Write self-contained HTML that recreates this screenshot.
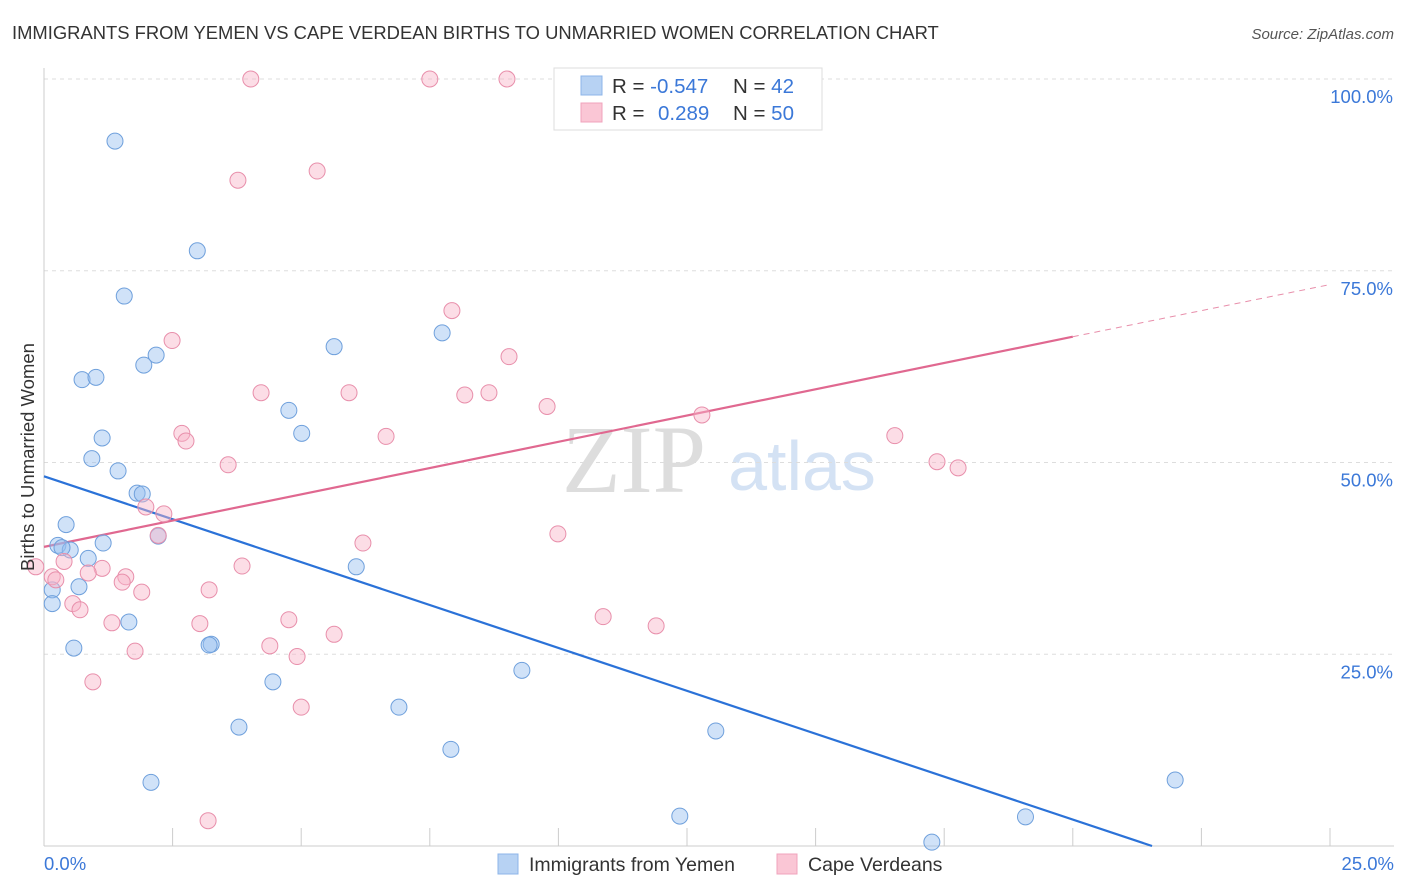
<!DOCTYPE html>
<html><head><meta charset="utf-8"><style>
body{margin:0;background:#fff;font-family:"Liberation Sans",sans-serif;}
svg{display:block}
</style></head><body>
<svg id="chart" width="1406" height="892">
<text x="12" y="39" font-size="18.4" fill="#333">IMMIGRANTS FROM YEMEN VS CAPE VERDEAN BIRTHS TO UNMARRIED WOMEN CORRELATION CHART</text>
<text x="1394" y="39" font-size="15" fill="#555" font-style="italic" text-anchor="end">Source: ZipAtlas.com</text>
<text x="634" y="492" font-size="96" fill="#ddd" font-family="Liberation Serif,serif" text-anchor="middle">ZIP</text>
<text x="802" y="490" font-size="70" fill="#d4e2f4" text-anchor="middle">atlas</text>
<g id="grid"></g>
<g id="axes"></g>
<g id="lines"></g>
<g id="pts"></g>
<text transform="translate(34,457) rotate(-90)" font-size="18.5" fill="#333" text-anchor="middle">Births to Unmarried Women</text>
<text x="44" y="870" font-size="18.5" fill="#3b78d8">0.0%</text>
<text x="1394" y="870" font-size="18.5" fill="#3b78d8" text-anchor="end">25.0%</text>
<g>
<rect x="554" y="68" width="268" height="62" fill="#fff" stroke="#ddd"/>
<rect x="581" y="76" width="21" height="19" fill="#b7d2f3" stroke="#8cb4e8"/>
<rect x="581" y="103" width="21" height="19" fill="#fac6d5" stroke="#f0a3bc"/>
<text x="612" y="93" font-size="20.5" fill="#333">R = <tspan fill="#3b78d8">-0.547</tspan><tspan x="733">N = </tspan><tspan fill="#3b78d8">42</tspan></text>
<text x="612" y="120" font-size="20.5" fill="#333">R = <tspan x="658" fill="#3b78d8">0.289</tspan><tspan x="733">N = </tspan><tspan fill="#3b78d8">50</tspan></text>
</g>
<g>
<rect x="498" y="854" width="20" height="20" fill="#b7d2f3" stroke="#8cb4e8"/>
<text x="529" y="871" font-size="19.5" fill="#333">Immigrants from Yemen</text>
<rect x="777" y="854" width="20" height="20" fill="#fac6d5" stroke="#f0a3bc"/>
<text x="808" y="871" font-size="19.5" fill="#333">Cape Verdeans</text>
</g>
</svg>
<script>
const yTicks=[25,50,75,100];
const yTickLabels=["25.0%","50.0%","75.0%","100.0%"];
const xTicks=[0,2.5,5,7.5,10,12.5,15,17.5,20,22.5,25];
const blueX=[1.38,2.98,1.56,2.18,1.94,0.74,1.01,1.13,0.93,1.44,1.81,1.91,0.43,0.27,0.51,0.35,1.15,0.86,2.22,0.68,0.16,0.16,1.65,0.58,3.25,3.21,5.64,4.76,5.01,7.74,6.07,4.45,3.79,6.9,9.29,7.91,2.08,13.06,12.36,21.99,19.08,17.26];
const blueY=[91.9,77.6,71.7,64.0,62.7,60.8,61.1,53.2,50.5,48.9,46.0,45.9,41.9,39.2,38.6,38.9,39.5,37.5,40.4,33.8,33.4,31.6,29.2,25.8,26.3,26.2,65.1,56.8,53.8,66.9,36.4,21.4,15.5,18.1,22.9,12.6,8.3,15.0,3.9,8.6,3.8,0.5];
const pinkX=[4.02,7.5,9.0,3.77,5.31,7.93,2.49,9.04,4.22,5.93,8.18,8.65,9.78,2.68,2.76,6.65,12.79,16.54,17.36,17.77,3.58,1.98,2.33,2.22,6.2,9.99,3.85,1.13,0.86,-0.16,0.39,0.16,0.23,1.59,1.52,1.9,3.21,0.56,0.7,1.32,3.03,4.76,5.64,10.87,11.9,4.39,4.92,1.77,0.95,5.0,3.19];
const pinkY=[100,100,100,86.8,88.0,69.8,65.9,63.8,59.1,59.1,58.8,59.1,57.3,53.8,52.8,53.4,56.2,53.5,50.1,49.3,49.7,44.2,43.3,40.5,39.5,40.7,36.5,36.2,35.6,36.4,37.1,35.1,34.7,35.1,34.4,33.1,33.4,31.6,30.8,29.1,29.0,29.5,27.6,29.9,28.7,26.1,24.7,25.4,21.4,18.1,3.3];
const blueLine=[0,48.2,21.54,0];
const pinkLine=[0,39.0,20,66.4,25,73.2];
const ns="http://www.w3.org/2000/svg";
const X0=44,X1=1330,Y0=846,Y100=79;
const sx=v=>X0+v/25*(X1-X0);
const sy=v=>Y0-v/100*(Y0-Y100);
function mk(tag,attrs,parent){const e=document.createElementNS(ns,tag);for(const k in attrs)e.setAttribute(k,attrs[k]);parent.appendChild(e);return e;}
const grid=document.getElementById('grid'),axes=document.getElementById('axes'),lines=document.getElementById('lines'),pts=document.getElementById('pts'),svg=document.getElementById('chart');
yTicks.forEach((t,i)=>{
 const l=mk('line',{x1:X0,x2:1394,y1:sy(t),y2:sy(t),stroke:'#ddd','stroke-dasharray':'4,4'},grid);
 
 
 const tx=mk('text',{x:1393,y:sy(t)+24,'font-size':18.5,fill:'#3b78d8','text-anchor':'end'},svg);
 tx.textContent=yTickLabels[i];
 
 
});
const ya=mk('line',{x1:X0,x2:X0,y1:68,y2:Y0,stroke:'#ccc'},axes);


const xa=mk('line',{x1:X0,x2:1394,y1:Y0,y2:Y0,stroke:'#ccc'},axes);


xTicks.forEach(t=>{
 const l=mk('line',{x1:sx(t),x2:sx(t),y1:Y0,y2:Y0-18,stroke:'#ccc'},axes);
 
 
});
blueX.forEach((x,i)=>{
 const c=mk('circle',{cx:sx(x),cy:sy(blueY[i]),r:8,fill:'rgba(150,190,240,0.45)',stroke:'#6fa0dc','stroke-width':1},pts);
 
 
});
pinkX.forEach((x,i)=>{
 const c=mk('circle',{cx:sx(x),cy:sy(pinkY[i]),r:8,fill:'rgba(248,180,200,0.45)',stroke:'#e88fab','stroke-width':1},pts);
 
 
});
const bl=mk('line',{x1:sx(blueLine[0]),y1:sy(blueLine[1]),x2:sx(blueLine[2]),y2:sy(blueLine[3]),stroke:'#2b72d8','stroke-width':2.2},lines);


const pl=mk('line',{x1:sx(pinkLine[0]),y1:sy(pinkLine[1]),x2:sx(pinkLine[2]),y2:sy(pinkLine[3]),stroke:'#e06890','stroke-width':2.2},lines);


const pd=mk('line',{x1:sx(pinkLine[2]),y1:sy(pinkLine[3]),x2:sx(pinkLine[4]),y2:sy(pinkLine[5]),stroke:'#e88fab','stroke-width':1,'stroke-dasharray':'6,5'},lines);


</script>
</body></html>
